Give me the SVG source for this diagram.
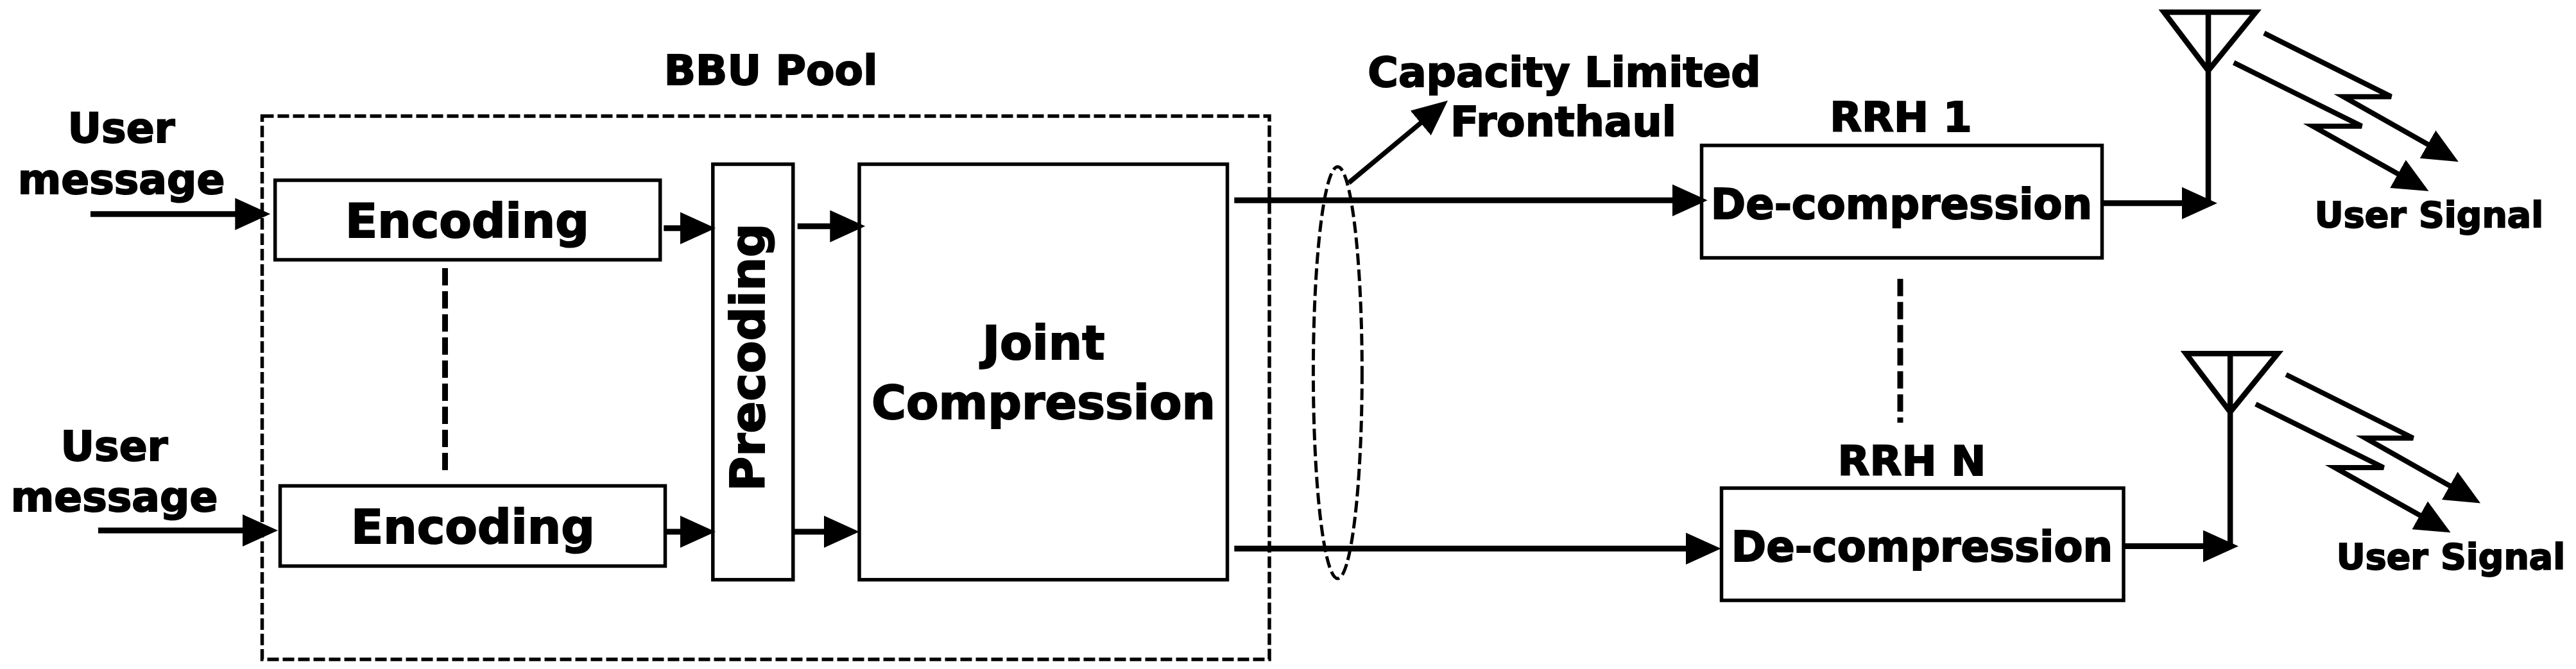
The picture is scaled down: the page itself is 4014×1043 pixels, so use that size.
<svg xmlns="http://www.w3.org/2000/svg" width="4014" height="1043" viewBox="0 0 4014 1043">
<style>
text{font-family:"DejaVu Sans",sans-serif;font-weight:700;fill:#000;stroke:#000;stroke-width:2;text-anchor:middle}
.l{font-size:64.8px}.b{font-size:73.6px}.d{font-size:65.6px}.s{font-size:55.4px}
.box{fill:#fff;stroke:#000;stroke-width:5.5}
.dash{fill:none;stroke:#000;stroke-width:5.5;stroke-dasharray:18 6}
.oval{fill:none;stroke:#000;stroke-width:5;stroke-dasharray:18 7}
.dots{fill:none;stroke:#000;stroke-width:9;stroke-dasharray:27 9}
.arr{fill:none;stroke:#000;stroke-width:9;marker-end:url(#h)}
.thin{fill:none;stroke:#000;stroke-width:8.5}
.sig{fill:none;stroke:#000;stroke-width:8;marker-end:url(#h)}
</style>
<defs>
<marker id="h" viewBox="0 0 55 50" refX="8" refY="25" markerWidth="55" markerHeight="50" markerUnits="userSpaceOnUse" orient="auto"><path d="M0 0L55 25L0 50Z" fill="#000"/></marker>
<g id="ant"><path class="thin" d="M3372 19H3515L3441 110ZM3441 19V316"/></g>
<g id="sigs"><path class="sig" d="M3528 51.7L3726 150.7H3651.7L3790 229"/><path class="sig" d="M3480.7 97.7L3680 196.7H3604L3743.5 275"/></g>
</defs>
<rect width="4014" height="1043" fill="#fff"/>
<g id="bbu-pool"><rect x="408.5" y="181" width="1569.5" height="847" class="dash"/><text class="l" x="1201" y="132">BBU Pool</text></g>
<g id="encoding-1"><rect class="box" x="428.7" y="281" width="600" height="124"/><text class="b" x="728" y="369.5">Encoding</text></g>
<g id="encoding-2"><rect class="box" x="436.5" y="757.5" width="600" height="125"/><text class="b" x="737" y="847">Encoding</text></g>
<g id="precoding"><rect class="box" x="1110.8" y="256" width="125" height="647.8"/><text class="b" transform="translate(1190.7 557) rotate(-90)">Precoding</text></g>
<g id="joint-compression"><rect class="box" x="1339" y="256" width="573.5" height="647.8"/><text class="b" x="1626" y="560">Joint</text><text class="b" x="1626" y="653">Compression</text></g>
<g id="rrh-1"><rect class="box" x="2651.5" y="226.7" width="624" height="175.3"/><text class="l" x="2962" y="205">RRH 1</text><text class="d" x="2963" y="340.7">De-compression</text></g>
<g id="rrh-n"><rect class="box" x="2682.5" y="761" width="626.5" height="175"/><text class="l" x="2979" y="741">RRH N</text><text class="d" x="2995" y="875">De-compression</text></g>
<g id="user-1"><text class="l" x="189" y="222">User</text><text class="l" x="189" y="302">message</text></g>
<g id="user-2"><text class="l" x="178" y="717.5">User</text><text class="l" x="178" y="797">message</text></g>
<g id="fronthaul"><ellipse class="oval" cx="2084.4" cy="581" rx="38" ry="321"/><text class="l" x="2437.5" y="135">Capacity Limited</text><text class="l" x="2436" y="212">Fronthaul</text></g>
<g id="antenna-1"><use href="#ant"/></g>
<g id="antenna-2"><use href="#ant" transform="translate(34.2 532.3)"/></g>
<g id="signal-1"><use href="#sigs"/><text class="s" x="3785" y="354">User Signal</text></g>
<g id="signal-2"><use href="#sigs" transform="translate(34.2 532.3)"/><text class="s" x="3819" y="887">User Signal</text></g>
<g id="connectors">
<path class="arr" d="M141 333.7H374.3"/><path class="arr" d="M153 827H386"/>
<path class="arr" d="M1034.3 355.7H1068"/><path class="arr" d="M1036 829H1068"/>
<path class="arr" d="M1242.7 352.7H1301.3"/><path class="arr" d="M1237 829H1292"/>
<path class="arr" d="M1923.3 312.3H2613.7"/><path class="arr" d="M1923.3 855.3H2634.7"/>
<path class="arr" d="M3278 316.7H3408"/><path class="arr" d="M3311 851.6H3441"/>
<path class="arr" style="stroke-width:7.5" d="M2101.7 285L2219.9 186.7"/>
<path class="dots" d="M693.5 418V742"/><path class="dots" d="M2961 434.7V659"/>
</g>
</svg>
